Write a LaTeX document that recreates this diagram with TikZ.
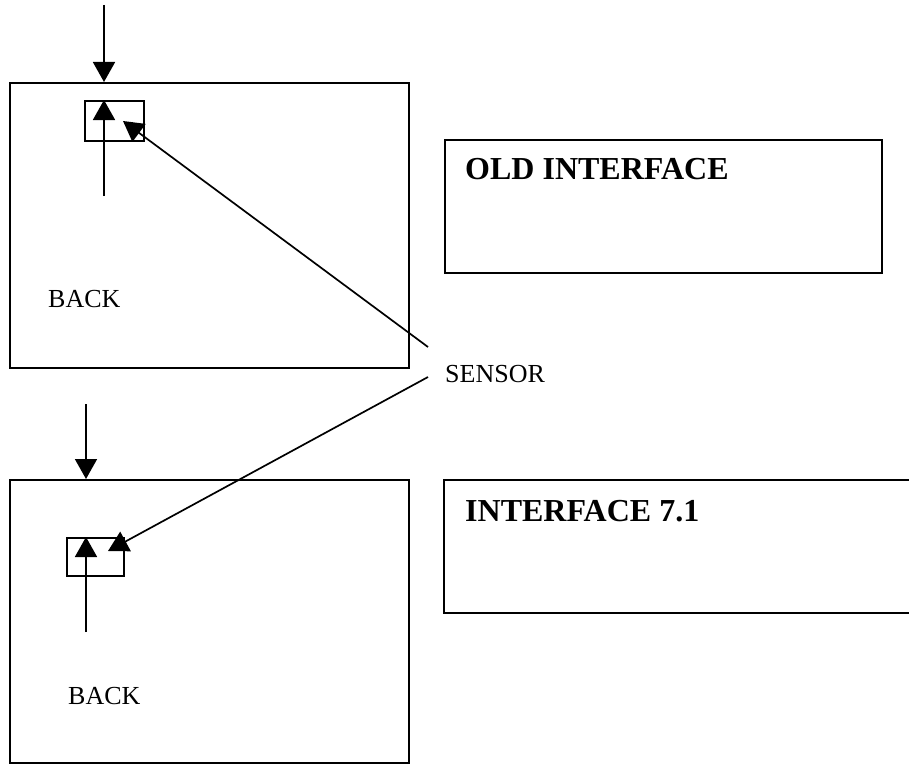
\documentclass[tikz,border=0pt]{standalone}
\usepackage{fontspec}
\setmainfont{Liberation Serif}
\usetikzlibrary{arrows.meta,positioning}

\tikzset{
    panel/.style={draw, rectangle, line width=1.7pt, anchor=north west, inner sep=0pt},
    hit/.style={-{Triangle[length=20pt,width=22pt]}, line width=1.7pt},
    lbl/.style={font=\fontsize{26}{30}\selectfont, anchor=west, inner sep=0pt},
    title/.style={font=\fontsize{32}{36}\selectfont\bfseries, anchor=west, inner sep=0pt}
}

\begin{document}
\begin{tikzpicture}[x=1pt, y=-1pt]
        \useasboundingbox (0,0) rectangle (909,765);

        % old layout
        \node (back1) [panel, minimum width=399pt, minimum height=285pt] at (9,82) {};
        \node (sensor1) [panel, minimum width=59pt, minimum height=40pt] at (84,100) {};
        \node (backlbl1) [lbl] at (48,299) {BACK};
        \node (old) [panel, minimum width=437pt, minimum height=133pt] at (444,139) {};
        \node (oldlbl) [title] at (465,169) {OLD INTERFACE};

        % new layout
        \node (back2) [panel, minimum width=399pt, minimum height=283pt] at (9,479) {};
        \node (sensor2) [panel, minimum width=57pt, minimum height=38pt] at (66,537) {};
        \node (backlbl2) [lbl] at (68,696) {BACK};
        \node (newlbl) [title] at (465,511) {INTERFACE 7.1};
        \draw[line width=1.7pt] (912,480) -- (444,480) -- (444,613) -- (912,613);

        \node (sensor) [lbl] at (445,374) {SENSOR};

        \coordinate (in1) at (104,5);
        \coordinate (stem1) at (104,196);
        \coordinate (in2) at (86,404);
        \coordinate (stem2) at (86,632);
        \coordinate (spot1) at (123,121);
        \coordinate (spot2) at (108,551);

        \draw[hit] (in1) -- (in1 |- back1.north);
        \draw[hit] (stem1) -- (stem1 |- sensor1.north);
        \draw[hit] (in2) -- (in2 |- back2.north);
        \draw[hit] (stem2) -- (stem2 |- sensor2.north);

        \draw[hit] ([shift={(-17,-27)}]sensor.west) -- (spot1);
        \draw[hit] ([shift={(-17,3)}]sensor.west) -- (spot2);
    \end{tikzpicture}
\end{document}
